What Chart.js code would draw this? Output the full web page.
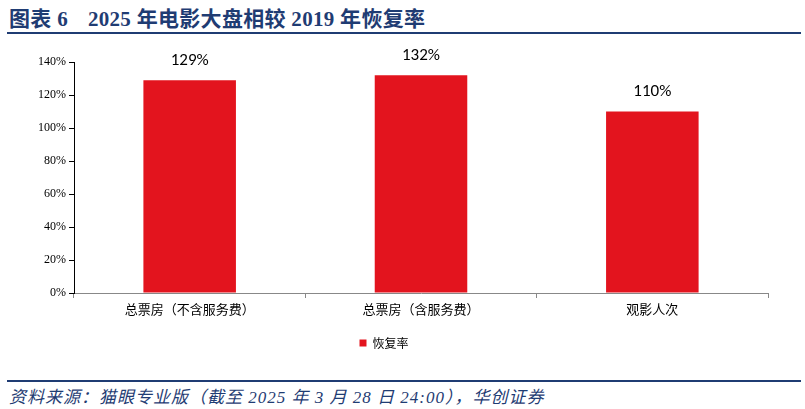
<!DOCTYPE html>
<html>
<head>
<meta charset="utf-8">
<title>2025年电影大盘相较2019年恢复率</title>
<script src="https://cdn.jsdelivr.net/npm/chart.js@4"></script>
<style>
	html, body { margin:0; padding:0; background:#fff; }
	body { width:805px; height:409px; position:relative; overflow:hidden; }
	#title {
		position:absolute; left:9px; top:2px;
		font-family:"Liberation Serif","Noto Sans CJK SC",serif;
		font-weight:bold; font-size:21px; color:#1F3C73;
		white-space:nowrap; letter-spacing:0.3px;
	}
	#title span { display:inline-block; width:20px; }
	#titleLine { position:absolute; left:7px; top:32px; width:794px; height:2px; background:#1F3C73; }
	#Chart_container { position:absolute; left:0; top:40px; width:805px; height:319px; }
	#footLine { position:absolute; left:7px; top:380px; width:794px; height:2px; background:#1F3C73; }
	#source {
		position:absolute; left:9px; top:383px;
		font-family:"Liberation Serif","Noto Sans CJK SC",serif;
		font-style:italic; font-size:17px; color:#1F3C73; white-space:nowrap; letter-spacing:1px;
	}
</style>
</head>
<body>

<div id="title">图表 6<span></span>2025 年电影大盘相较 2019 年恢复率</div>
<div id="titleLine"></div>

<div id="Chart_container">
	<canvas id="myChart"></canvas>
</div>

<div id="footLine"></div>
<div id="source">资料来源：猫眼专业版（截至 2025 年 3 月 28 日 24:00），华创证券</div>

<script type="text/javascript">
	// data
	let categorias = ['总票房（不含服务费）', '总票房（含服务费）', '观影人次'];
	let recovery = [129, 132, 110];
	let seriesName = '恢复率';
	let yTicks = [0, 20, 40, 60, 80, 100, 120, 140];

	// value labels above each bar
	let barLabels = {
		id: 'barLabels',
		afterDatasetsDraw(chart) {
			let ctx = chart.ctx;
			let meta = chart.getDatasetMeta(0);
			ctx.save();
			ctx.font = '17px Carlito, "Open Sans", sans-serif';
			ctx.fillStyle = '#000';
			ctx.textAlign = 'center';
			ctx.textBaseline = 'bottom';
			meta.data.forEach(function(bar, i) {
				ctx.fillText(recovery[i] + '%', bar.x, bar.y - 11);
			});
			ctx.restore();
		}
	};

	let ctx = document.getElementById('myChart');
	let myChart = new Chart(ctx, {
		type: 'bar',
		data: {
			labels: categorias,
			datasets: [{
				label: seriesName,
				data: recovery,
				backgroundColor: '#E3141E',
				borderWidth: 0,
				barPercentage: 0.4,
				categoryPercentage: 1.0
			}]
		},
		options: {
			responsive: true,
			maintainAspectRatio: false,
			animation: false,
			layout: { padding: { left: 0, right: 37, top: 22, bottom: 0 } },
			plugins: {
				tooltip: { enabled: false },
				legend: {
					position: 'bottom',
					labels: {
						boxWidth: 7, boxHeight: 7,
						color: '#000',
						font: { family: '"Noto Sans CJK SC", sans-serif', size: 12 },
						padding: 6
					}
				}
			},
			scales: {
				x: {
					grid: { display: true, drawOnChartArea: false, drawTicks: true, tickLength: 5, color: '#888', offset: true },
					border: { color: '#888', width: 1 },
					ticks: {
						color: '#000',
						font: { family: '"Noto Sans CJK SC", sans-serif', size: 13 },
						padding: 3,
						maxRotation: 0
					},
					afterFit: function(s) { s.height = 38; }
				},
				y: {
					min: 0, max: 140,
					afterBuildTicks: function(s) { s.ticks = yTicks.map(function(v) { return { value: v }; }); },
					grid: { display: true, drawOnChartArea: false, drawTicks: true, tickLength: 5, color: '#000' },
					border: { color: '#000', width: 1 },
					ticks: {
						color: '#000',
						font: { family: '"Liberation Serif", serif', size: 12 },
						padding: 3,
						callback: function(v) { return v + '%'; }
					},
					afterFit: function(s) { s.width = 74; }
				}
			}
		},
		plugins: [barLabels]
	});
</script>

</body>
</html>
